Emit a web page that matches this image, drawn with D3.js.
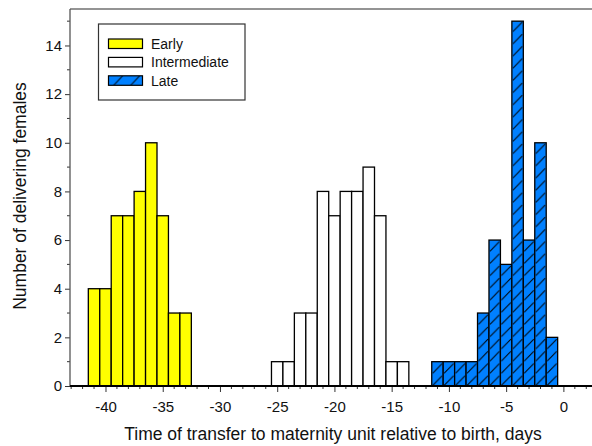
<!DOCTYPE html>
<html>
<head>
<meta charset="utf-8">
<script src="https://cdn.jsdelivr.net/npm/d3@7"></script>
<style>
  body { margin: 0; background: #fff; }
  svg { font-family: "Liberation Sans", Arial, sans-serif; }
</style>
</head>
<body>
<div id="chart"></div>
<script>
var W = 592, H = 446;

// day bins (centres) and counts
var earlyDays = [-41, -40, -39, -38, -37, -36, -35, -34, -33];
var earlyCounts = [4, 4, 7, 7, 8, 10, 7, 3, 3];
var interDays = [-25, -24, -23, -22, -21, -20, -19, -18, -17, -16, -15, -14];
var interCounts = [1, 1, 3, 3, 8, 7, 8, 8, 9, 7, 1, 1];
var lateDays = [-11, -10, -9, -8, -7, -6, -5, -4, -3, -2, -1];
var lateCounts = [1, 1, 1, 1, 3, 6, 5, 15, 6, 10, 2];

var xTicks = [-40, -35, -30, -25, -20, -15, -10, -5, 0];
var yTicks = [0, 2, 4, 6, 8, 10, 12, 14];
var groupNames = ['Early', 'Intermediate', 'Late'];

var pLeft = 70, pRight = 592, pTop = 9, pBottom = 386;

var svg = d3.select('#chart').append('svg')
    .attr('width', W)
    .attr('height', H);

var x = d3.scaleLinear().domain([-43.1, 2.5]).range([pLeft, pRight]);
var y = d3.scaleLinear().domain([0, 15.5]).range([pBottom, pTop]);
var bw = x(1) - x(0);

// hatch for late group
var defs = svg.append('defs');
var pat = defs.append('pattern')
    .attr('id', 'hatch')
    .attr('patternUnits', 'userSpaceOnUse')
    .attr('x', x(-11.5))
    .attr('y', pBottom)
    .attr('width', bw)
    .attr('height', 12.2);
pat.append('rect').attr('width', bw).attr('height', 12.2).attr('fill', '#0080ff');
pat.append('line')
    .attr('x1', 1).attr('y1', 11.5)
    .attr('x2', bw - 1).attr('y2', 2)
    .attr('stroke', '#000').attr('stroke-width', 1);

var groups = [
  {days: earlyDays, counts: earlyCounts, fill: '#ffff00'},
  {days: interDays, counts: interCounts, fill: '#ffffff'},
  {days: lateDays, counts: lateCounts, fill: 'url(#hatch)'}
];

//draw the bars
groups.forEach(function(g){
  svg.append('g').selectAll('rect')
      .data(g.days.map(function(d, i){ return {day: d, n: g.counts[i]}; }))
      .enter()
      .append('rect')
      .attr('x', function(d){ return x(d.day - 0.5); })
      .attr('y', function(d){ return y(d.n); })
      .attr('width', bw)
      .attr('height', function(d){ return y(0) - y(d.n); })
      .attr('fill', g.fill)
      .attr('stroke', '#000')
      .attr('stroke-width', 1.3);
});

// frame: top line in gray
svg.append('line')
    .attr('x1', pLeft).attr('x2', pRight)
    .attr('y1', pTop).attr('y2', pTop)
    .attr('stroke', '#707070').attr('stroke-width', 1.5);

//y axis
var minorY = d3.range(1, 16, 2);
svg.append('g').selectAll('line')
    .data(minorY).enter().append('line')
    .attr('x1', pLeft - 3).attr('x2', pLeft)
    .attr('y1', function(d){ return y(d); })
    .attr('y2', function(d){ return y(d); })
    .attr('stroke', '#333');

var axisY = d3.axisLeft(y)
    .tickValues(yTicks)
    .tickSize(5)
    .tickPadding(3)
    .tickFormat(function(d){ return String(d); });
var gy = svg.append('g')
    .attr('transform', 'translate(' + pLeft + ',0)')
    .call(axisY);
gy.select('.domain').remove();
gy.append('line')
    .attr('x1', 0).attr('x2', 0)
    .attr('y1', pTop).attr('y2', pBottom)
    .attr('stroke', '#555').attr('stroke-width', 1.3);
gy.selectAll('.tick line').attr('stroke', '#333');
gy.selectAll('.tick text')
    .attr('font-size', 15)
    .attr('fill', '#111')
    .attr('font-family', '"Liberation Sans", Arial, sans-serif');

//x axis
var minorX = d3.range(-43, 3, 1).filter(function(d){ return d % 5 !== 0; });
svg.append('g').selectAll('line')
    .data(minorX).enter().append('line')
    .attr('x1', function(d){ return x(d); })
    .attr('x2', function(d){ return x(d); })
    .attr('y1', pBottom).attr('y2', pBottom + 3)
    .attr('stroke', '#333');

var axisX = d3.axisBottom(x)
    .tickValues(xTicks)
    .tickSize(6)
    .tickPadding(9)
    .tickFormat(function(d){ return String(d); });
var gx = svg.append('g')
    .attr('transform', 'translate(0,' + pBottom + ')')
    .call(axisX);
gx.select('.domain').remove();
gx.selectAll('.tick line').attr('stroke', '#333');
gx.selectAll('.tick text')
    .attr('font-size', 15)
    .attr('fill', '#111')
    .attr('font-family', '"Liberation Sans", Arial, sans-serif');
svg.append('line')
    .attr('x1', pLeft).attr('x2', pRight)
    .attr('y1', pBottom).attr('y2', pBottom)
    .attr('stroke', '#000').attr('stroke-width', 2);

// axis titles
svg.append('text')
    .attr('x', 333)
    .attr('y', 440)
    .attr('text-anchor', 'middle')
    .attr('font-size', 17.5)
    .attr('fill', '#111')
    .text('Time of transfer to maternity unit relative to birth, days');

svg.append('text')
    .attr('transform', 'translate(26,196) rotate(-90)')
    .attr('text-anchor', 'middle')
    .attr('font-size', 17.5)
    .attr('fill', '#111')
    .text('Number of delivering females');

//legend
var lg = svg.append('g');
lg.append('rect')
    .attr('x', 98.5).attr('y', 24)
    .attr('width', 146.5).attr('height', 76)
    .attr('fill', '#fff')
    .attr('stroke', '#333').attr('stroke-width', 1.2);
var fills = ['#ffff00', '#ffffff', 'url(#legHatch)'];

var lpat = defs.append('pattern')
    .attr('id', 'legHatch')
    .attr('patternUnits', 'userSpaceOnUse')
    .attr('x', 108.5).attr('y', 76)
    .attr('width', 17).attr('height', 9.5);
lpat.append('rect').attr('width', 17).attr('height', 9.5).attr('fill', '#0080ff');
lpat.append('line')
    .attr('x1', 5).attr('y1', 9.5)
    .attr('x2', 14).attr('y2', 0)
    .attr('stroke', '#000').attr('stroke-width', 1);

groupNames.forEach(function(name, i){
  var yy = 39 + i * 18.4;
  lg.append('rect')
      .attr('x', 108.5).attr('y', yy)
      .attr('width', 34).attr('height', 9.5)
      .attr('fill', fills[i])
      .attr('stroke', '#000').attr('stroke-width', 1.2);
  lg.append('text')
      .attr('x', 151)
      .attr('y', yy + 10)
      .attr('font-size', 14)
      .attr('fill', '#111')
      .text(name);
});
</script>
</body>
</html>
